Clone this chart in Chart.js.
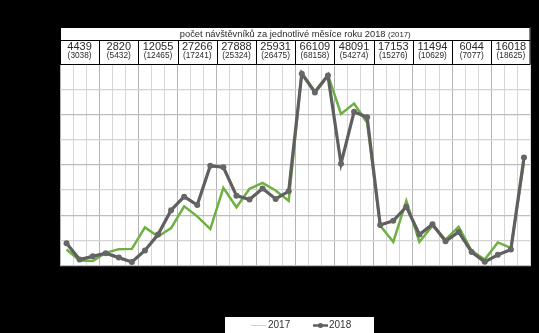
<!DOCTYPE html>
<html><head><meta charset="utf-8">
<script src="https://cdn.jsdelivr.net/npm/chart.js@4/dist/chart.umd.min.js"></script>
<style>html,body{margin:0;padding:0;background:#000;}#wrap{width:539px;height:333px;position:relative;}</style>
</head><body><div id="wrap"><canvas id="c" width="539" height="333"></canvas></div>
<script>
const periods = ['I/1','I/2','I/3','II/1','II/2','II/3','III/1','III/2','III/3','IV/1','IV/2','IV/3','V/1','V/2','V/3','VI/1','VI/2','VI/3','VII/1','VII/2','VII/3','VIII/1','VIII/2','VIII/3','IX/1','IX/2','IX/3','X/1','X/2','X/3','XI/1','XI/2','XI/3','XII/1','XII/2','XII/3'];
const visitors2018 = [2650,700,1090, 1460,940,420, 1790,3680,6585, 8200,7200,11870, 11700,8320,7870, 9160,7930,8840, 22850,20620,22640, 12130,18300,17660, 4830,5320,7000, 3700,4900,2890, 4000,1600,440, 1270,1900,12850];
const visitors2017 = [1900,600,540, 1500,1950,1980, 4540,3460,4460, 7050,5850,4340, 9250,6930,9140, 9850,8930,7700, 22950,20750,22700, 18050,19300,17000, 4750,2800,7700, 2800,4750,3080, 4620,1760,700, 2750,2100,12300];
const monthTotals2018 = [4439,2820,12055,27266,27888,25931,66109,48091,17153,11494,6044,16018];
const monthTotals2017 = [3038,5432,12465,17241,25324,26475,68158,54274,15276,10629,7077,18625];
const titleText = 'počet návštěvníků za jednotlivé měsíce roku 2018';
const titleSub = '(2017)';
const yTicks = [0,3000,6000,9000,12000,15000,18000,21000,24000];

const FONT = '"Liberation Sans", Arial, sans-serif';
const bgPlugin = {
  id:'bg',
  beforeDraw(chart){
    const {ctx, chartArea:a} = chart;
    ctx.save();
    ctx.fillStyle='#000'; ctx.fillRect(0,0,chart.width,chart.height);
    ctx.fillStyle='#fff'; ctx.fillRect(a.left,a.top,a.right-a.left,a.bottom-a.top);
    ctx.restore();
  },
  afterDraw(chart){
    const {ctx, chartArea:a} = chart;
    const w=(a.right-a.left)/12;
    const t0=27, t1=40, t2=a.top;
    ctx.save();
    ctx.fillStyle='#fff';
    ctx.fillRect(a.left,t0,a.right-a.left,t2-t0);
    ctx.strokeStyle='#000'; ctx.lineWidth=1;
    ctx.strokeRect(a.left+0.5,t0+0.5,a.right-a.left-1,t2-t0);
    ctx.beginPath(); ctx.moveTo(a.left,t1+0.5); ctx.lineTo(a.right,t1+0.5); ctx.stroke();
    for(let k=1;k<12;k++){const x=Math.round(a.left+k*w)+0.5;ctx.beginPath();ctx.moveTo(x,t1);ctx.lineTo(x,t2);ctx.stroke();}
    // title
    ctx.fillStyle='#2a2a2a'; ctx.textBaseline='middle';
    ctx.font='9.3px '+FONT; const w1=ctx.measureText(titleText+' ').width;
    ctx.font='7.8px '+FONT; const w2=ctx.measureText(titleSub).width;
    const cx=(a.left+a.right)/2; let sx=cx-(w1+w2)/2;
    ctx.textAlign='left';
    ctx.font='9.3px '+FONT; ctx.fillText(titleText+' ',sx,34);
    ctx.font='7.8px '+FONT; ctx.fillText(titleSub,sx+w1,34.5);
    ctx.textAlign='center';
    for(let k=0;k<12;k++){
      const mx=a.left+(k+0.5)*w;
      ctx.font='11px '+FONT; ctx.fillText(String(monthTotals2018[k]),mx,46.5);
      ctx.font='8.3px '+FONT; ctx.fillText('('+monthTotals2017[k]+')',mx,56);
    }
    // legend
    ctx.fillStyle='#fff'; ctx.fillRect(225,317,149,16);
    ctx.strokeStyle='#d0d0d0'; ctx.lineWidth=1;
    ctx.beginPath(); ctx.moveTo(251,325.5); ctx.lineTo(266,325.5); ctx.stroke();
    ctx.strokeStyle='#5f5f5f'; ctx.lineWidth=2.5;
    ctx.beginPath(); ctx.moveTo(313,325.5); ctx.lineTo(328,325.5); ctx.stroke();
    ctx.fillStyle='#5f5f5f'; ctx.beginPath(); ctx.arc(320.5,325.5,2.5,0,Math.PI*2); ctx.fill();
    ctx.fillStyle='#333'; ctx.textAlign='left'; ctx.font='10px '+FONT;
    ctx.fillText(chart.data.datasets[0].label,268,325.5);
    ctx.fillText(chart.data.datasets[1].label,329,325.5);
    ctx.restore();
  }
};

new Chart(document.getElementById('c'),{
  type:'line',
  data:{labels:periods,datasets:[
    {label:'2017',data:visitors2017,borderColor:'#6fb043',borderWidth:2.5,pointRadius:0,tension:0,order:2},
    {label:'2018',data:visitors2018,borderColor:'#5f5f5f',backgroundColor:'#5f5f5f',borderWidth:3.2,pointRadius:3,pointBorderWidth:0,pointBackgroundColor:'#666',tension:0,order:1}
  ]},
  options:{
    responsive:false,animation:false,
    layout:{padding:{left:60,right:8.5,top:64,bottom:67.5}},
    plugins:{legend:{display:false},tooltip:{enabled:false}},
    scales:{
      x:{offset:true,ticks:{display:false},border:{display:false},
         grid:{offset:true,drawTicks:false,color:c=>(c.index%3===0?'#b4b4b4':'#d6d6d6'),lineWidth:1}},
      y:{min:0,max:24000,afterBuildTicks:s=>{s.ticks=yTicks.map(v=>({value:v}));},
         ticks:{display:false},border:{display:false},
         grid:{drawTicks:false,color:c=>(c.tick&&c.tick.value%6000===0?'#bcbcbc':'#d4d4d4'),lineWidth:1.2}}
    }
  },
  plugins:[bgPlugin]
});
</script></body></html>
